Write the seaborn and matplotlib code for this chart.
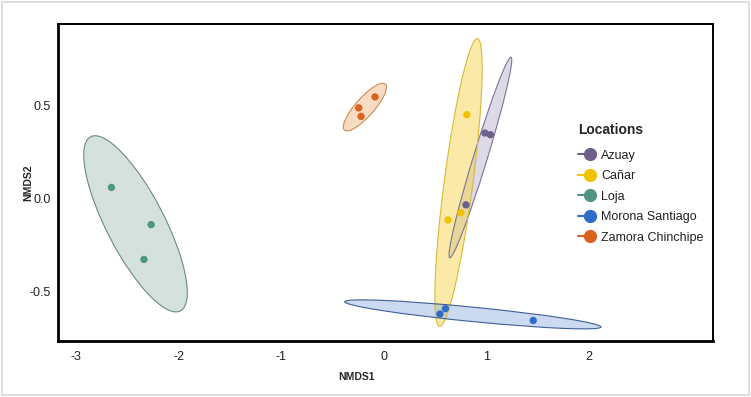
import numpy as np
import pandas as pd
import matplotlib.pyplot as plt
from matplotlib.patches import Ellipse, Rectangle
from matplotlib.lines import Line2D
from matplotlib.legend_handler import HandlerBase
import seaborn as sns

sns.set_style("white")
plt.rcParams['font.family'] = ['Liberation Sans', 'DejaVu Sans']

# NMDS site scores
locations = ['Azuay', 'Cañar', 'Loja', 'Morona Santiago', 'Zamora Chinchipe']
azuay_x = [0.984, 1.037, 0.799]
azuay_y = [0.354, 0.345, -0.034]
canar_x = [0.809, 0.748, 0.624]
canar_y = [0.453, -0.077, -0.116]
loja_x = [-2.656, -2.269, -2.339]
loja_y = [0.060, -0.141, -0.329]
morona_x = [0.546, 0.599, 1.455]
morona_y = [-0.624, -0.595, -0.659]
zamora_x = [-0.087, -0.246, -0.223]
zamora_y = [0.549, 0.490, 0.444]

point_colors = ['#6e5e8c', '#f2c200', '#4f9582', '#2f6cc8', '#d9621c']
fill_colors = ['#b4accb', '#f7d23c', '#a3bdb5', '#8eaee2', '#f0b07a']
edge_colors = ['#7e7494', '#d9b83a', '#6c8a82', '#3f5f98', '#d08a50']

xs = [azuay_x, canar_x, loja_x, morona_x, zamora_x]
ys = [azuay_y, canar_y, loja_y, morona_y, zamora_y]
df = pd.concat([pd.DataFrame({'NMDS1': x, 'NMDS2': y, 'Location': loc})
                for x, y, loc in zip(xs, ys, locations)])

fig = plt.figure(figsize=(7.51, 3.97), dpi=100)
ax = fig.add_axes([0.0772, 0.141, 0.8722, 0.7985])

# 95% normal ellipses around each group (like vegan ordiellipse, kind="sd")
scale = np.sqrt(5.991)
for loc, fc, ec in zip(locations, fill_colors, edge_colors):
    sub = df[df.Location == loc]
    cov = np.cov(sub.NMDS1, sub.NMDS2)
    vals, vecs = np.linalg.eigh(cov)
    angle = np.degrees(np.arctan2(vecs[1, 1], vecs[0, 1]))
    center = (sub.NMDS1.mean(), sub.NMDS2.mean())
    w, h = 2 * scale * np.sqrt(vals[1]), 2 * scale * np.sqrt(vals[0])
    ax.add_patch(Ellipse(center, w, h, angle=angle, facecolor=fc, alpha=0.45,
                         edgecolor='none', zorder=1))
    ax.add_patch(Ellipse(center, w, h, angle=angle, fill=False, edgecolor=ec,
                         lw=0.8, zorder=2))

sns.scatterplot(data=df, x='NMDS1', y='NMDS2', hue='Location', hue_order=locations,
                palette=point_colors, s=28, linewidth=0, legend=False, zorder=3, ax=ax)

ax.set_xlim(-3.177, 3.207)
ax.set_ylim(-0.770, 0.943)
ax.set_xticks([-3, -2, -1, 0, 1, 2])
ax.set_xticklabels(['-3', '-2', '-1', '0', '1', '2'])
ax.set_yticks([-0.5, 0.0, 0.5])
ax.set_yticklabels(['-0.5', '0.0', '0.5'])
ax.tick_params(length=0, labelsize=9, labelcolor='#222222')
ax.tick_params(axis='x', pad=7)
ax.tick_params(axis='y', pad=5)
for side in ['left', 'bottom', 'top', 'right']:
    ax.spines[side].set_color('black')
    ax.spines[side].set_linewidth(1.4)
ax.spines['left'].set_linewidth(2)
ax.spines['bottom'].set_linewidth(2)

ax.set_xlabel('NMDS1', fontsize=7.5, fontweight='bold')
ax.set_ylabel('NMDS2', fontsize=7.5, fontweight='bold')
ax.xaxis.set_label_coords(0.456, -0.098)
ax.yaxis.set_label_coords(-0.038, 0.498)


class LineDot(HandlerBase):
    def create_artists(self, legend, orig, xd, yd, w, h, fontsize, trans):
        y = h / 2 - yd
        mx = -xd + w * 0.7
        line = Line2D([-xd, mx], [y, y], color=orig.get_color(), lw=1.5, transform=trans)
        dot = Line2D([mx], [y], marker='o', ms=8.5, color=orig.get_color(), ls='',
                     transform=trans)
        return [line, dot]


handles = [Line2D([0], [0], color=c) for c in point_colors]
leg = ax.legend(handles, locations, loc='upper left',
                bbox_to_anchor=(0.794, 0.603), frameon=False, fontsize=9,
                handler_map={Line2D: LineDot()}, handlelength=1.36,
                handletextpad=0.5, labelspacing=0.68, borderpad=0, borderaxespad=0)
for t in leg.get_texts():
    t.set_color('#222222')
ax.text(0.794, 0.666, 'Locations', transform=ax.transAxes, fontsize=10,
        fontweight='bold', ha='left', va='center')

fig.patches.append(Rectangle((0.002, 0.004), 0.996, 0.992, transform=fig.transFigure,
                             fill=False, edgecolor='#d8d8d8', lw=1.2))

fig.savefig('out.png', dpi=100)
